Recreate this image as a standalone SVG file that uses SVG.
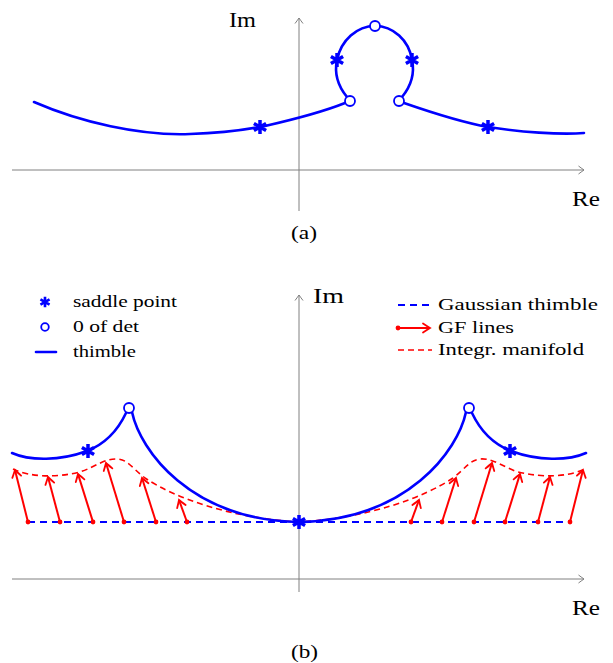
<svg xmlns="http://www.w3.org/2000/svg" xmlns:xlink="http://www.w3.org/1999/xlink" width="613" height="663" viewBox="0 0 613 663">
<style>
.axis{fill:none;stroke:#808080;stroke-width:1}
.thimble{fill:none;stroke:#0000ff;stroke-width:2.6;stroke-linecap:round}
.gauss{fill:none;stroke:#0000ff;stroke-width:2.2;stroke-dasharray:7,5}
.manif{fill:none;stroke:#ff0000;stroke-width:1.6;stroke-dasharray:6,4}
.gf{fill:none;stroke:#ff0000;stroke-width:2}
.zero{fill:#fff;stroke:#0000ff;stroke-width:1.8}
.lab{font-family:"Liberation Serif","DejaVu Serif",serif;fill:#000}
.big{font-size:22px}
.cap{font-size:19px}
.leg{font-size:17px}
</style>
<defs>
<marker id="axhead" markerUnits="userSpaceOnUse" viewBox="-7 -5 9 10" refX="0" refY="0" markerWidth="9" markerHeight="10" orient="auto">
<path d="M-5.5,-4 Q-1.5,-1 0,0 Q-1.5,1 -5.5,4" fill="none" stroke="#808080" stroke-width="1"/>
</marker>
<marker id="gfhead" markerUnits="userSpaceOnUse" viewBox="-9 -6 11 12" refX="0" refY="0" markerWidth="11" markerHeight="12" orient="auto">
<path d="M-7,-4.5 Q-2,-1.2 0,0 Q-2,1.2 -7,4.5" fill="none" stroke="#ff0000" stroke-width="1.8" stroke-linecap="round"/>
</marker>
<marker id="gfdot" markerUnits="userSpaceOnUse" viewBox="-4 -4 8 8" refX="0" refY="0" markerWidth="8" markerHeight="8">
<circle r="2.4" fill="#ff0000"/>
</marker>
<path id="ast" d="M0,-7V7M-6.1,-3.5L6.1,3.5M-6.1,3.5L6.1,-3.5" fill="none" stroke="#0000ff" stroke-width="3.5" stroke-linecap="butt"/>
</defs>

<g id="panel-a">
<g id="axes-a">
<path class="axis" d="M12,170H584" marker-end="url(#axhead)"/>
<path class="axis" d="M299,211V18" marker-end="url(#axhead)"/>
<text class="lab big" x="229" y="27" textLength="27" lengthAdjust="spacingAndGlyphs">Im</text>
<text class="lab big" x="572" y="206" textLength="28" lengthAdjust="spacingAndGlyphs">Re</text>
<text class="lab cap" x="291" y="239" textLength="26" lengthAdjust="spacingAndGlyphs">(a)</text>
</g>
<g id="connectors-a">
<path class="thimble" d="M34,102 C80,122 140,136 190,134 C225,133 250,129 265,126 C300,118 325,111 345,103"/>
<path class="thimble" d="M347,97 C338,86 334,74 337,60 C341,40 357,26 375,26 C393,26 409,40 412,60 C415,74 411,86 402,97"/>
<path class="thimble" d="M404,103 C430,112 460,122 488,127 C520,132 560,135 584,133"/>
</g>
<g id="nodes-a">
<use xlink:href="#ast" x="260" y="127"/>
<use xlink:href="#ast" x="488" y="127"/>
<use xlink:href="#ast" x="337" y="60"/>
<use xlink:href="#ast" x="412" y="60"/>
<circle class="zero" cx="350" cy="101" r="5"/>
<circle class="zero" cx="399" cy="101" r="5"/>
<circle class="zero" cx="375" cy="26" r="5"/>
</g>
</g>

<g id="panel-b">
<g id="axes-b">
<path class="axis" d="M12,579H584" marker-end="url(#axhead)"/>
<path class="axis" d="M299,592V295" marker-end="url(#axhead)"/>
<text class="lab big" x="313" y="303" textLength="31" lengthAdjust="spacingAndGlyphs">Im</text>
<text class="lab big" x="572" y="615" textLength="28" lengthAdjust="spacingAndGlyphs">Re</text>
<text class="lab cap" x="291" y="658" textLength="27" lengthAdjust="spacingAndGlyphs">(b)</text>
</g>
<g id="legend">
<g transform="translate(45,302) scale(0.75)"><use xlink:href="#ast"/></g>
<text class="lab leg" x="73" y="307" textLength="104" lengthAdjust="spacingAndGlyphs">saddle point</text>
<circle class="zero" cx="45" cy="327" r="3.8"/>
<text class="lab leg" x="73" y="332" textLength="66" lengthAdjust="spacingAndGlyphs">0 of det</text>
<path class="thimble" d="M36,352H56" stroke-width="3" stroke-linecap="butt"/>
<text class="lab leg" x="73" y="357" textLength="63" lengthAdjust="spacingAndGlyphs">thimble</text>
<path class="gauss" d="M398,305H432" stroke-dasharray="6,4"/>
<text class="lab leg" x="438" y="310" textLength="160" lengthAdjust="spacingAndGlyphs">Gaussian thimble</text>
<path class="gf" d="M398,328H430" marker-start="url(#gfdot)" marker-end="url(#gfhead)"/>
<text class="lab leg" x="438" y="333" textLength="76" lengthAdjust="spacingAndGlyphs">GF lines</text>
<path class="manif" d="M398,350H432"/>
<text class="lab leg" x="438" y="355" textLength="146" lengthAdjust="spacingAndGlyphs">Integr. manifold</text>
</g>
<g id="connectors-b">
<path class="gauss" d="M28,522H570"/>
<path class="manif" d="M13,469 C30,477 55,478 80,472 C95,467 105,458 118,459 C128,460 132,468 145,478 C175,498 230,518 299,522 C368,518 423,498 453,478 C466,468 470,460 480,459 C493,458 503,467 518,472 C543,478 568,477 585,469"/>
<path class="thimble" d="M12,453 C30,461 60,461 87,451 C105,444 118,430 126,413"/>
<path class="thimble" d="M132,412 C140,450 190,520 299,522 C408,520 458,450 466,412"/>
<path class="thimble" d="M472,413 C480,430 493,444 511,451 C538,461 568,461 586,453"/>
<g id="gf-lines">
<path class="gf" d="M28,522L15,470" marker-start="url(#gfdot)" marker-end="url(#gfhead)"/>
<path class="gf" d="M60,522L48,477" marker-start="url(#gfdot)" marker-end="url(#gfhead)"/>
<path class="gf" d="M93,522L78,474" marker-start="url(#gfdot)" marker-end="url(#gfhead)"/>
<path class="gf" d="M124,522L106,463" marker-start="url(#gfdot)" marker-end="url(#gfhead)"/>
<path class="gf" d="M156,522L142,478" marker-start="url(#gfdot)" marker-end="url(#gfhead)"/>
<path class="gf" d="M187,522L179,500" marker-start="url(#gfdot)" marker-end="url(#gfhead)"/>
<path class="gf" d="M411,522L419,500" marker-start="url(#gfdot)" marker-end="url(#gfhead)"/>
<path class="gf" d="M442,522L456,478" marker-start="url(#gfdot)" marker-end="url(#gfhead)"/>
<path class="gf" d="M474,522L492,463" marker-start="url(#gfdot)" marker-end="url(#gfhead)"/>
<path class="gf" d="M505,522L520,474" marker-start="url(#gfdot)" marker-end="url(#gfhead)"/>
<path class="gf" d="M538,522L550,477" marker-start="url(#gfdot)" marker-end="url(#gfhead)"/>
<path class="gf" d="M570,522L583,470" marker-start="url(#gfdot)" marker-end="url(#gfhead)"/>
</g>
</g>
<g id="nodes-b">
<use xlink:href="#ast" x="88" y="451"/>
<use xlink:href="#ast" x="510" y="451"/>
<use xlink:href="#ast" x="299" y="522"/>
<circle class="zero" cx="129" cy="408" r="5"/>
<circle class="zero" cx="469" cy="408" r="5"/>
</g>
</g>
</svg>
